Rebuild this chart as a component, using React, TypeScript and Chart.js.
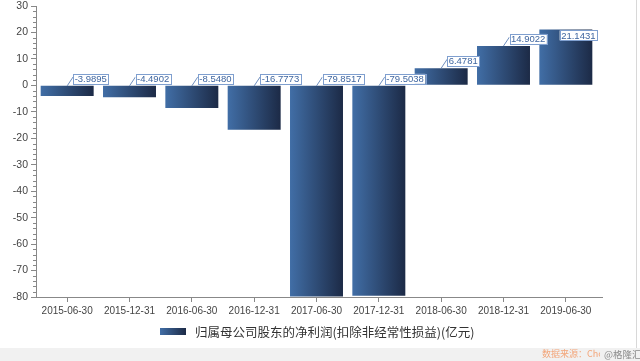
import React, { useEffect, useRef } from "react";
import { Chart, registerables } from "chart.js";

Chart.register(...registerables);

const categories = [
  "2015-06-30",
  "2015-12-31",
  "2016-06-30",
  "2016-12-31",
  "2017-06-30",
  "2017-12-31",
  "2018-06-30",
  "2018-12-31",
  "2019-06-30",
];
const values = [-3.9895, -4.4902, -8.548, -16.7773, -79.8517, -79.5038, 6.4781, 14.9022, 21.1431];
const valueLabels = ["-3.9895", "-4.4902", "-8.5480", "-16.7773", "-79.8517", "-79.5038", "6.4781", "14.9022", "21.1431"];
const seriesName = "归属母公司股东的净利润(扣除非经常性损益)(亿元)";
const yMin = -80;
const yMax = 30;
const yStep = 10;
const sourceText = "数据来源：Choice数据";
const watermarkText = "@格隆汇";

const FONT = '"Liberation Sans", Arial, sans-serif';
const CJK = '"Noto Sans CJK SC", "Liberation Sans", sans-serif';
const GRAD_L = "#416ea6";
const GRAD_R = "#1c2a46";

function makeGrad(ctx: CanvasRenderingContext2D, x0: number, x1: number) {
  const g = ctx.createLinearGradient(x0, 0, x1, 0);
  g.addColorStop(0, GRAD_L);
  g.addColorStop(1, GRAD_R);
  return g;
}

const customPlugin = {
  id: "customDraw",
  beforeDraw(chart: any) {
    const ctx = chart.ctx as CanvasRenderingContext2D;
    ctx.save();
    ctx.fillStyle = "#ffffff";
    ctx.fillRect(0, 0, chart.width, chart.height);
    ctx.fillStyle = "#f1f1f1";
    ctx.fillRect(0, 348, chart.width, chart.height - 348);
    ctx.restore();
  },
  beforeDatasetsDraw(chart: any) {
    const ctx = chart.ctx as CanvasRenderingContext2D;
    const meta = chart.getDatasetMeta(0);
    meta.data.forEach((el: any) => {
      const p = el.getProps(["x", "width"], true);
      el.options = Object.assign({}, el.options, {
        backgroundColor: makeGrad(ctx, p.x - p.width / 2, p.x + p.width / 2),
      });
    });
  },
  afterDatasetsDraw(chart: any) {
    const ctx = chart.ctx as CanvasRenderingContext2D;
    const area = chart.chartArea;
    const meta = chart.getDatasetMeta(0);
    ctx.save();
    ctx.font = `9.5px ${FONT}`;
    ctx.textBaseline = "middle";
    ctx.textAlign = "left";
    meta.data.forEach((el: any, i: number) => {
      const p = el.getProps(["x", "y", "base", "width"], true);
      const v = values[i];
      const anchorY = v >= 0 ? p.y : p.base;
      const text = valueLabels[i];
      const tw = ctx.measureText(text).width;
      const bw = tw + 3;
      const bh = 10;
      let bx = p.x + 6;
      let by = anchorY - 12;
      let leader = true;
      if (bx + bw > area.right) {
        bx = area.right - bw;
        by = anchorY + 1;
        leader = false;
      }
      if (leader) {
        ctx.strokeStyle = "#6f8fbf";
        ctx.lineWidth = 1;
        ctx.beginPath();
        ctx.moveTo(p.x, anchorY);
        ctx.lineTo(bx, by + 3);
        ctx.stroke();
      }
      ctx.fillStyle = "#ffffff";
      ctx.fillRect(bx, by, bw, bh);
      ctx.strokeStyle = "#7f9fcf";
      ctx.lineWidth = 1;
      ctx.strokeRect(Math.round(bx) + 0.5, Math.round(by) + 0.5, Math.round(bw), bh);
      ctx.fillStyle = "#3f66a0";
      ctx.fillText(text, bx + 1.5, by + bh / 2 + 0.5);
    });
    ctx.restore();
  },
  afterDraw(chart: any) {
    const ctx = chart.ctx as CanvasRenderingContext2D;
    const area = chart.chartArea;
    const yScale = chart.scales.y;
    ctx.save();
    ctx.strokeStyle = "#888888";
    ctx.lineWidth = 1;
    for (let v = yMin; v <= yMax; v += 2) {
      if (v % yStep === 0) continue;
      const py = Math.round(yScale.getPixelForValue(v)) + 0.5;
      ctx.beginPath();
      ctx.moveTo(area.left - 3, py);
      ctx.lineTo(area.left, py);
      ctx.stroke();
    }
    const by = Math.round(area.bottom) + 0.5;
    ctx.beginPath();
    ctx.moveTo(area.right, by);
    ctx.lineTo(area.right + 6, by);
    ctx.stroke();
    // legend
    ctx.fillStyle = makeGrad(ctx, 160, 186);
    ctx.fillRect(160, 328, 26, 7);
    ctx.font = `12.5px ${CJK}`;
    ctx.fillStyle = "#333333";
    ctx.textBaseline = "middle";
    ctx.textAlign = "left";
    ctx.fillText(seriesName, 195, 332);
    // source / watermark
    ctx.font = `9px ${CJK}`;
    ctx.fillStyle = "#f3a67a";
    ctx.fillText(sourceText, 542, 354);
    ctx.fillStyle = "#f1f1f1";
    ctx.fillRect(600, 349, 40, 12);
    ctx.font = `9.5px ${CJK}`;
    ctx.fillStyle = "#8a8a8a";
    ctx.fillText(watermarkText, 604, 354);
    ctx.strokeStyle = "#d8d8d8";
    ctx.beginPath();
    ctx.moveTo(636.5, 0);
    ctx.lineTo(636.5, 348);
    ctx.stroke();
    ctx.restore();
  },
};

export default function App() {
  const ref = useRef<HTMLCanvasElement | null>(null);
  useEffect(() => {
    if (!ref.current) return;
    const chart = new Chart(ref.current, {
      type: "bar",
      data: {
        labels: categories,
        datasets: [
          {
            label: seriesName,
            data: values,
            backgroundColor: () => "#2c4a78",
            borderWidth: 0,
            barPercentage: 0.85,
            categoryPercentage: 1.0,
          },
        ],
      },
      options: {
        responsive: false,
        animation: false,
        layout: { padding: { top: 6, right: 43, bottom: 0, left: 0 } },
        plugins: {
          legend: { display: false },
          tooltip: { enabled: false },
        },
        scales: {
          x: {
            type: "category",
            offset: true,
            grid: {
              display: true,
              drawOnChartArea: false,
              offset: false,
              tickLength: 5,
              color: "#888888",
            },
            border: { display: true, color: "#888888" },
            ticks: {
              font: { size: 10, family: FONT },
              color: "#444444",
              maxRotation: 0,
              autoSkip: false,
              padding: 3,
            },
            afterFit: (s: any) => {
              s.height = 64;
              s.paddingLeft = 0;
              s.paddingRight = 0;
            },
          },
          y: {
            min: yMin,
            max: yMax,
            grid: {
              display: true,
              drawOnChartArea: false,
              tickLength: 5,
              color: "#888888",
            },
            border: { display: true, color: "#888888" },
            ticks: {
              stepSize: yStep,
              font: { size: 10.5, family: FONT },
              color: "#444444",
              padding: 3,
            },
            afterFit: (s: any) => {
              s.width = 36;
              s.paddingTop = 0;
              s.paddingBottom = 0;
            },
          },
        },
      },
      plugins: [customPlugin],
    });
    return () => chart.destroy();
  }, []);
  return (
    <div style={{ position: "absolute", left: 0, top: 0, width: 640, height: 361 }}>
      <canvas ref={ref} width={640} height={361} style={{ display: "block" }} />
    </div>
  );
}
